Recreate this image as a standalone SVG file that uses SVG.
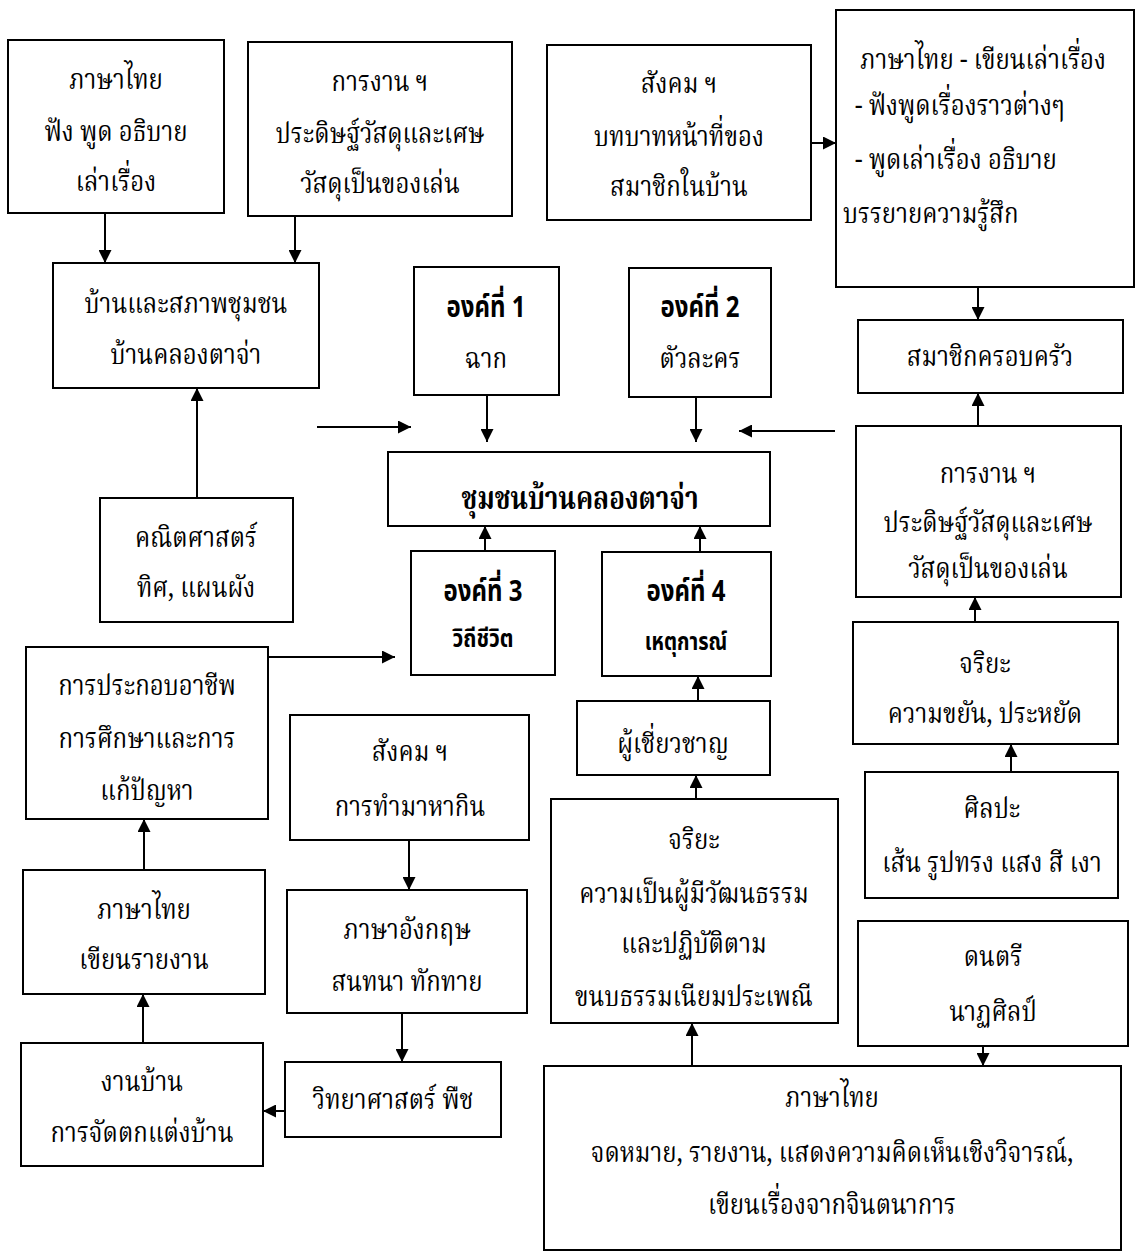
<svg xmlns="http://www.w3.org/2000/svg" width="1138" height="1256" viewBox="0 0 1138 1256">
<style>
.bx{fill:#fff;stroke:#000;stroke-width:2}
.t{font-family:"Noto Serif Thai","Noto Sans Thai","Loma","Garuda","Norasi","Tlwg Typo","DejaVu Sans",sans-serif;font-size:24px;fill:#000;text-anchor:middle;transform-box:fill-box;transform-origin:center;transform:scaleY(1.22)}
.l{text-anchor:start}
.b{font-weight:bold}
.s{font-family:"Noto Sans Thai","Loma","Garuda","Noto Serif Thai",sans-serif}
.c{stroke:#000;stroke-width:2;fill:none;marker-end:url(#ah)}
</style>
<defs>
<marker id="ah" viewBox="0 0 10 10" refX="10" refY="5" markerWidth="15" markerHeight="13" markerUnits="userSpaceOnUse" orient="auto"><path d="M0,0 L10,5 L0,10 z" fill="#000"/></marker>
</defs>
<rect width="1138" height="1256" fill="#fff"/>
<g id="connectors">
<line class="c" x1="105" y1="213" x2="105" y2="263"/>
<line class="c" x1="295" y1="216" x2="295" y2="263"/>
<line class="c" x1="811" y1="143" x2="836" y2="143"/>
<line class="c" x1="978" y1="287" x2="978" y2="320"/>
<line class="c" x1="978" y1="426" x2="978" y2="393"/>
<line class="c" x1="197" y1="498" x2="197" y2="388"/>
<line class="c" x1="317" y1="427" x2="411" y2="427"/>
<line class="c" x1="835" y1="431" x2="739" y2="431"/>
<line class="c" x1="487" y1="395" x2="487" y2="442"/>
<line class="c" x1="696" y1="397" x2="696" y2="442"/>
<line class="c" x1="485" y1="551" x2="485" y2="526"/>
<line class="c" x1="700" y1="552" x2="700" y2="526"/>
<line class="c" x1="268" y1="657" x2="395" y2="657"/>
<line class="c" x1="698" y1="701" x2="698" y2="676"/>
<line class="c" x1="696" y1="799" x2="696" y2="775"/>
<line class="c" x1="692" y1="1066" x2="692" y2="1023"/>
<line class="c" x1="409" y1="840" x2="409" y2="890"/>
<line class="c" x1="402" y1="1013" x2="402" y2="1062"/>
<line class="c" x1="285" y1="1111" x2="263" y2="1111"/>
<line class="c" x1="143" y1="1043" x2="143" y2="994"/>
<line class="c" x1="144" y1="870" x2="144" y2="819"/>
<line class="c" x1="975" y1="622" x2="975" y2="597"/>
<line class="c" x1="1011" y1="772" x2="1011" y2="744"/>
<line class="c" x1="983" y1="1046" x2="983" y2="1066"/>
</g>
<g id="n-thai-listen">
<rect class="bx" x="8" y="40" width="216" height="173"/>
<text class="t" x="116" y="88">ภาษาไทย</text>
<text class="t" x="116" y="140">ฟัง พูด อธิบาย</text>
<text class="t" x="116" y="190">เล่าเรื่อง</text>
</g>
<g id="n-craft-top">
<rect class="bx" x="248" y="42" width="264" height="174"/>
<text class="t" x="380" y="90">การงาน ฯ</text>
<text class="t" x="380" y="142">ประดิษฐ์วัสดุและเศษ</text>
<text class="t" x="380" y="192">วัสดุเป็นของเล่น</text>
</g>
<g id="n-social-role">
<rect class="bx" x="547" y="45" width="264" height="175"/>
<text class="t" x="679" y="92">สังคม ฯ</text>
<text class="t" x="679" y="145">บทบาทหน้าที่ของ</text>
<text class="t" x="679" y="195">สมาชิกในบ้าน</text>
</g>
<g id="n-thai-story">
<rect class="bx" x="836" y="10" width="298" height="277"/>
<text class="t l" x="860" y="68">ภาษาไทย -  เขียนเล่าเรื่อง</text>
<text class="t l" x="855" y="114">-  ฟังพูดเรื่องราวต่างๆ</text>
<text class="t l" x="855" y="168">-  พูดเล่าเรื่อง อธิบาย</text>
<text class="t l" x="843" y="222">บรรยายความรู้สึก</text>
</g>
<g id="n-home">
<rect class="bx" x="53" y="263" width="266" height="125"/>
<text class="t" x="186" y="312">บ้านและสภาพชุมชน</text>
<text class="t" x="186" y="363">บ้านคลองตาจ่า</text>
</g>
<g id="n-el1">
<rect class="bx" x="414" y="267" width="145" height="128"/>
<text class="t b s" x="486" y="315">องค์ที่ 1</text>
<text class="t" x="486" y="367">ฉาก</text>
</g>
<g id="n-el2">
<rect class="bx" x="629" y="268" width="142" height="129"/>
<text class="t b s" x="700" y="315">องค์ที่ 2</text>
<text class="t" x="700" y="367">ตัวละคร</text>
</g>
<g id="n-family">
<rect class="bx" x="858" y="320" width="265" height="73"/>
<text class="t" x="990" y="365">สมาชิกครอบครัว</text>
</g>
<g id="n-main">
<rect class="bx" x="388" y="452" width="382" height="74"/>
<text class="t b" x="580" y="507" style="font-size:26px">ชุมชนบ้านคลองตาจ่า</text>
</g>
<g id="n-math">
<rect class="bx" x="100" y="498" width="193" height="124"/>
<text class="t" x="196" y="546">คณิตศาสตร์</text>
<text class="t" x="196" y="596">ทิศ, แผนผัง</text>
</g>
<g id="n-el3">
<rect class="bx" x="411" y="551" width="144" height="124"/>
<text class="t b s" x="483" y="599">องค์ที่ 3</text>
<text class="t b s" x="483" y="646" style="font-size:21px">วิถีชีวิต</text>
</g>
<g id="n-el4">
<rect class="bx" x="602" y="552" width="169" height="124"/>
<text class="t b s" x="686" y="599">องค์ที่ 4</text>
<text class="t b s" x="686" y="649" style="font-size:20px">เหตุการณ์</text>
</g>
<g id="n-career">
<rect class="bx" x="26" y="647" width="242" height="172"/>
<text class="t" x="147" y="694">การประกอบอาชีพ</text>
<text class="t" x="147" y="747">การศึกษาและการ</text>
<text class="t" x="147" y="799">แก้ปัญหา</text>
</g>
<g id="n-expert">
<rect class="bx" x="577" y="701" width="193" height="74"/>
<text class="t" x="673" y="752">ผู้เชี่ยวชาญ</text>
</g>
<g id="n-social-food">
<rect class="bx" x="290" y="715" width="239" height="125"/>
<text class="t" x="410" y="760">สังคม ฯ</text>
<text class="t" x="410" y="815">การทำมาหากิน</text>
</g>
<g id="n-ethics-culture">
<rect class="bx" x="551" y="799" width="287" height="224"/>
<text class="t" x="694" y="848">จริยะ</text>
<text class="t" x="694" y="902">ความเป็นผู้มีวัฒนธรรม</text>
<text class="t" x="694" y="952">และปฏิบัติตาม</text>
<text class="t" x="694" y="1005">ขนบธรรมเนียมประเพณี</text>
</g>
<g id="n-thai-report">
<rect class="bx" x="23" y="870" width="242" height="124"/>
<text class="t" x="144" y="918">ภาษาไทย</text>
<text class="t" x="144" y="968">เขียนรายงาน</text>
</g>
<g id="n-english">
<rect class="bx" x="287" y="890" width="240" height="123"/>
<text class="t" x="407" y="938">ภาษาอังกฤษ</text>
<text class="t" x="407" y="990">สนทนา  ทักทาย</text>
</g>
<g id="n-housework">
<rect class="bx" x="21" y="1043" width="242" height="123"/>
<text class="t" x="142" y="1090">งานบ้าน</text>
<text class="t" x="142" y="1141">การจัดตกแต่งบ้าน</text>
</g>
<g id="n-science">
<rect class="bx" x="285" y="1062" width="216" height="75"/>
<text class="t" x="393" y="1108">วิทยาศาสตร์ พืช</text>
</g>
<g id="n-craft-right">
<rect class="bx" x="856" y="426" width="265" height="171"/>
<text class="t" x="988" y="482">การงาน ฯ</text>
<text class="t" x="988" y="531">ประดิษฐ์วัสดุและเศษ</text>
<text class="t" x="988" y="577">วัสดุเป็นของเล่น</text>
</g>
<g id="n-ethics-diligence">
<rect class="bx" x="853" y="622" width="265" height="122"/>
<text class="t" x="985" y="672">จริยะ</text>
<text class="t" x="985" y="722">ความขยัน, ประหยัด</text>
</g>
<g id="n-art">
<rect class="bx" x="865" y="772" width="253" height="126"/>
<text class="t" x="992" y="817">ศิลปะ</text>
<text class="t" x="992" y="871">เส้น รูปทรง แสง สี เงา</text>
</g>
<g id="n-music">
<rect class="bx" x="858" y="921" width="270" height="125"/>
<text class="t" x="993" y="965">ดนตรี</text>
<text class="t" x="993" y="1020">นาฏศิลป์</text>
</g>
<g id="n-thai-letter">
<rect class="bx" x="544" y="1066" width="577" height="184"/>
<text class="t" x="832" y="1106">ภาษาไทย</text>
<text class="t" x="832" y="1161">จดหมาย, รายงาน, แสดงความคิดเห็นเชิงวิจารณ์,</text>
<text class="t" x="832" y="1213">เขียนเรื่องจากจินตนาการ</text>
</g>
</svg>
